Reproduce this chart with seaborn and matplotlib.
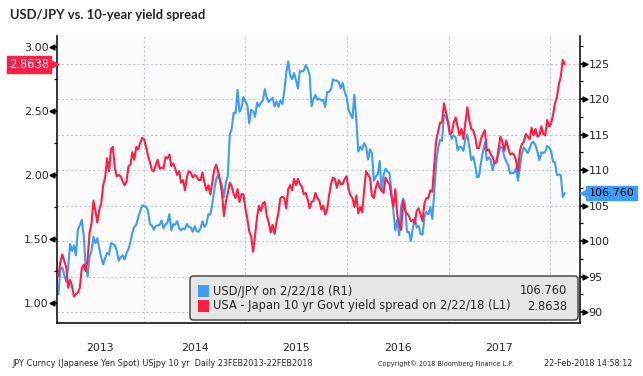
import numpy as np
import pandas as pd
import matplotlib
matplotlib.use("Agg")
import matplotlib.pyplot as plt
import matplotlib.dates as mdates
import matplotlib.transforms as mtransforms
from matplotlib.patches import FancyBboxPatch, Rectangle
from matplotlib.ticker import FormatStrFormatter, NullFormatter
import seaborn as sns

# weekly closes, first week 28 Feb 2013, last 22 Feb 2018
START = "2013-02-28"

usdjpy = [
    # 2013
    92.5,
    96.0, 96.3, 95.2, 94.3,
    96.2, 99.6, 98.6, 99.4,
    98.0, 101.6, 102.2, 103.0, 100.8,
    96.5, 95.0, 97.8, 98.6,
    100.6, 99.7, 100.4, 98.9,
    97.7, 96.7, 97.6, 98.3, 98.1,
    99.7, 99.6, 99.4, 98.6,
    97.2, 97.7, 98.0, 97.4, 98.3,
    98.9, 99.9, 101.2, 102.0,
    102.3, 103.4, 104.2, 105.0,
    # 2014
    105.0, 104.8, 104.3, 102.4, 102.2,
    101.6, 102.1, 102.2, 102.3,
    102.9, 101.8, 102.3, 102.6,
    103.8, 101.5, 102.4, 102.3,
    102.8, 101.8, 101.5, 101.8, 101.7,
    102.4, 102.0, 101.9, 101.3,
    102.1, 101.4, 101.3, 101.8, 102.8,
    102.0, 102.4, 103.8, 103.7,
    105.2, 107.1, 108.7, 109.3,
    108.5, 107.8, 106.2, 108.2, 109.2,
    115.0, 115.8, 118.1, 118.0,
    121.3, 118.2, 118.8, 120.3,
    # 2015
    119.7, 119.2, 116.6, 118.5, 118.3,
    117.5, 119.5, 119.0, 119.5,
    119.8, 121.4, 120.2, 119.6,
    119.9, 120.2, 119.0, 119.7, 118.9,
    119.8, 119.3, 121.1, 123.7,
    125.3, 123.4, 122.8, 123.7,
    122.7, 121.5, 124.0, 123.9, 124.0,
    124.8, 124.3, 123.4, 119.0,
    120.0, 120.6, 119.9, 120.1,
    119.8, 119.9, 118.9, 121.0, 121.0,
    121.4, 122.8, 122.6, 122.6,
    122.4, 121.5, 122.3, 121.0, 120.3,
    # 2016
    118.5, 117.9, 117.3, 120.6,
    117.0, 112.6, 113.3, 112.9,
    113.8, 113.3, 111.5, 112.9, 112.4,
    108.5, 109.1, 109.4, 111.3,
    107.0, 109.3, 110.2, 109.8,
    109.6, 107.0, 104.2, 101.5, 103.0,
    100.8, 104.9, 106.0, 105.3,
    101.3, 101.3, 100.0, 101.7,
    103.3, 101.9, 102.1, 101.0, 100.9,
    103.4, 104.1, 103.8, 104.8,
    103.1, 106.8, 110.9, 113.1,
    114.3, 114.1, 117.8, 117.6, 116.8,
    # 2017
    115.3, 114.4, 114.9, 114.6,
    112.8, 113.3, 113.2, 112.7,
    114.4, 115.0, 113.3, 111.4, 111.9,
    110.7, 109.0, 109.1, 111.1,
    112.5, 113.9, 111.4, 111.8,
    111.4, 110.0, 111.2, 111.3, 112.3,
    113.3, 113.1, 111.9, 111.2,
    110.7, 109.5, 109.6, 109.6, 110.3,
    108.5, 110.5, 112.4, 113.2,
    112.8, 112.4, 113.1, 113.8,
    114.0, 113.5, 112.6, 111.4, 112.5,
    112.4, 112.6, 113.4, 113.2,
    # 2018
    112.7, 111.2, 111.1, 109.3,
    109.4, 109.3, 106.2, 106.76,
]

spread = [
    # 2013
    1.21,
    1.32, 1.38, 1.33, 1.28,
    1.12, 1.18, 1.13, 1.05,
    1.07, 1.08, 1.12, 1.27, 1.30,
    1.25, 1.34, 1.55, 1.62,
    1.80, 1.72, 1.63, 1.73,
    1.78, 1.92, 1.98, 2.13, 2.03,
    2.20, 2.22, 2.05, 1.99,
    2.00, 1.99, 1.95, 1.92, 1.95,
    2.07, 2.08, 2.18, 2.12,
    2.22, 2.20, 2.25, 2.29,
    # 2014
    2.28, 2.22, 2.15, 2.10, 2.04,
    2.03, 2.08, 2.12, 2.05,
    2.06, 2.05, 2.14, 2.13,
    2.16, 2.07, 2.09, 2.05,
    2.00, 2.03, 1.94, 1.96, 1.88,
    1.99, 2.03, 2.02, 1.98,
    2.00, 1.99, 1.96, 1.96, 2.02,
    1.94, 1.88, 1.92, 1.85,
    1.94, 2.04, 2.08, 2.03,
    1.96, 1.86, 1.68, 1.79, 1.86,
    1.94, 1.91, 1.85, 1.82,
    1.89, 1.79, 1.85, 1.85,
    # 2015
    1.74, 1.66, 1.56, 1.52, 1.40,
    1.53, 1.67, 1.76, 1.72,
    1.78, 1.79, 1.68, 1.63,
    1.55, 1.61, 1.54, 1.63, 1.71,
    1.82, 1.83, 1.82, 1.74,
    1.89, 1.92, 1.88, 1.97,
    1.92, 1.97, 1.93, 1.91, 1.85,
    1.86, 1.81, 1.74, 1.79,
    1.80, 1.86, 1.82, 1.80,
    1.73, 1.76, 1.69, 1.73, 1.84,
    1.93, 1.98, 1.97, 1.90,
    1.96, 1.93, 1.93, 1.97, 1.99,
    # 2016
    1.89, 1.84, 1.82, 1.75,
    1.84, 1.70, 1.75, 1.71,
    1.88, 2.03, 2.00, 1.98, 1.84,
    1.82, 1.90, 1.95, 1.90,
    1.88, 1.86, 1.98, 1.95,
    1.93, 1.84, 1.75, 1.89, 1.69,
    1.62, 1.57, 1.80, 1.72,
    1.70, 1.68, 1.64, 1.65,
    1.62, 1.72, 1.74, 1.69, 1.64,
    1.78, 1.82, 1.82, 1.88,
    1.87, 2.07, 2.27, 2.34,
    2.41, 2.41, 2.56, 2.49, 2.42,
    # 2017
    2.32, 2.33, 2.41, 2.45,
    2.38, 2.31, 2.36, 2.28,
    2.41, 2.53, 2.43, 2.36, 2.35,
    2.30, 2.21, 2.21, 2.28,
    2.32, 2.35, 2.19, 2.20,
    2.16, 2.14, 2.09, 2.10, 2.20,
    2.30, 2.26, 2.19, 2.27,
    2.21, 2.16, 2.17, 2.16, 2.11,
    2.03, 2.19, 2.24, 2.26,
    2.32, 2.30, 2.28, 2.37,
    2.31, 2.36, 2.30, 2.31, 2.38,
    2.32, 2.31, 2.43, 2.38,
    # 2018
    2.40, 2.47, 2.56, 2.61,
    2.71, 2.77, 2.90, 2.8638,
]

year_labels = [2013, 2014, 2015, 2016, 2017]
left_ticks = [1.00, 1.50, 2.00, 2.50, 3.00]
right_ticks = [90, 95, 100, 105, 110, 115, 120, 125]

BLUE = "#3d9df5"
RED = "#ff1f45"

dates = pd.date_range(START, periods=len(usdjpy), freq="7D")
df = pd.DataFrame({"date": dates, "usdjpy": usdjpy, "spread": spread})

sns.set_style("white")
plt.rcParams["font.family"] = ["DejaVu Sans"]

fig = plt.figure(figsize=(6.43, 3.76), dpi=100)
ax = fig.add_axes([57 / 643, 1 - 323 / 376, 523 / 643, 287 / 376])
ax.set_facecolor("#fbfbfb")
ax2 = ax.twinx()
ax2.patch.set_visible(False)

sns.lineplot(data=df, x="date", y="usdjpy", ax=ax, color=BLUE, lw=1.5)
sns.lineplot(data=df, x="date", y="spread", ax=ax2, color=RED, lw=1.5)

x0, x1 = pd.Timestamp("2013-02-23"), pd.Timestamp("2018-04-18")
ax.set_xlim(x0, x1)
ax.set_xlabel("")
ax.set_ylabel("")
ax2.set_ylabel("")

# right scale (USD/JPY) on ax, left scale (spread) on ax2
ax.yaxis.tick_right()
ax2.yaxis.tick_left()
ax.set_ylim(88.45, 128.9)
ax2.set_ylim(0.844, 3.086)
ax.set_yticks(right_ticks)
ax.set_yticks(np.arange(92.5, 130, 5), minor=True)
ax2.set_yticks(left_ticks)
ax2.set_yticks(np.arange(1.25, 3.0, 0.5), minor=True)
ax2.yaxis.set_major_formatter(FormatStrFormatter("%.2f"))
ax.yaxis.set_major_formatter(FormatStrFormatter("%d"))

for a in (ax, ax2):
    a.tick_params(axis="y", which="major", direction="out", length=3.5, width=1.2,
                  color="black", labelsize=8, pad=2.5)
    a.tick_params(axis="y", which="minor", direction="out", length=2.5, width=0.9,
                  color="black")
ax.tick_params(axis="y", which="both", left=False, right=True, labelleft=False, labelright=True)
ax2.tick_params(axis="y", which="both", left=True, right=False, labelleft=True, labelright=False)

ax.xaxis.set_major_locator(mdates.YearLocator())
ax.xaxis.set_minor_locator(mdates.MonthLocator(bymonth=[4, 7, 10]))
ax.xaxis.set_major_formatter(NullFormatter())
ax.tick_params(axis="x", which="major", direction="out", length=23, width=0.7, color="#666666")
ax.tick_params(axis="x", which="minor", direction="out", length=3.5, width=0.9, color="black")

# triangle heads on the value ticks
tr_r = mtransforms.blended_transform_factory(ax.transAxes, ax.transData)
tr_l = mtransforms.blended_transform_factory(ax2.transAxes, ax2.transData)
ax.scatter([1.009] * len(right_ticks), right_ticks, marker=">", s=12, color="black",
           transform=tr_r, clip_on=False, zorder=6)
ax2.scatter([-0.009] * len(left_ticks), left_ticks, marker="<", s=12, color="black",
            transform=tr_l, clip_on=False, zorder=6)

ax.grid(which="major", axis="both", ls=(0, (2, 2)), color="#c3c7d0", lw=0.8)
ax.set_axisbelow(True)

for side in ("left", "right", "bottom"):
    ax.spines[side].set_visible(True)
    ax.spines[side].set_color("black")
    ax.spines[side].set_linewidth(1.1)
ax.spines["top"].set_visible(False)
for s in ax2.spines.values():
    s.set_visible(False)

# year labels centred on the visible part of each year
tr_yr = mtransforms.blended_transform_factory(ax.transData, ax.transAxes)
for yr in year_labels:
    a = max(pd.Timestamp(f"{yr}-01-01"), x0)
    b = pd.Timestamp(f"{yr + 1}-01-01")
    ax.text(a + (b - a) / 2, -0.087, str(yr), transform=tr_yr,
            ha="center", va="center", fontsize=7.8)

# last-value tags
last_spread = spread[-1]
last_jpy = usdjpy[-1]
ax2.text(-0.0155, last_spread, f"{last_spread:.4f}", transform=tr_l, ha="right", va="center",
         color="white", fontsize=8.3, clip_on=False, zorder=7,
         bbox=dict(boxstyle="square,pad=0.17", fc=RED, ec=RED))
ax2.scatter([-0.0085], [last_spread], marker=">", s=55, color=RED, transform=tr_l,
            clip_on=False, zorder=7)
ax.text(1.0165, last_jpy, f"{last_jpy:.3f}", transform=tr_r, ha="left", va="center",
        color="black", fontsize=8, clip_on=False, zorder=7,
        bbox=dict(boxstyle="square,pad=0.2", fc=BLUE, ec=BLUE))
ax.scatter([1.0095], [last_jpy], marker="<", s=55, color=BLUE, transform=tr_r,
           clip_on=False, zorder=7)

# legend box
lx0, lx1 = (190 - 57) / 523, (578 - 57) / 523
ly0, ly1 = (323 - 320) / 287, (323 - 276) / 287
ax2.add_patch(FancyBboxPatch((lx0, ly0), lx1 - lx0, ly1 - ly0, transform=ax2.transAxes,
                             boxstyle="round,pad=0,rounding_size=0.006", mutation_aspect=523 / 287,
                             fc="#e6e6e6", ec="#3a3a3a", lw=1.0, zorder=8, clip_on=False))
rows = [
    (BLUE, "USD/JPY on 2/22/18 (R1)", f"{last_jpy:.3f}", (323 - 291) / 287),
    (RED, "USA - Japan 10 yr Govt yield spread on 2/22/18 (L1)", f"{last_spread:.4f}", (323 - 306) / 287),
]
for col, lab, val, yc in rows:
    ax2.add_patch(Rectangle(((198 - 57) / 523, yc - 6 / 287), 11 / 523, 12 / 287,
                            transform=ax2.transAxes, fc=col, ec="none", zorder=9, clip_on=False))
    ax2.text((213 - 57) / 523, yc, lab, transform=ax2.transAxes, ha="left", va="center",
             fontsize=8.3, zorder=9)
    ax2.text((567 - 57) / 523, yc, val, transform=ax2.transAxes, ha="right", va="center",
             fontsize=8.3, zorder=9)

fig.text(10 / 643, 1 - 15 / 376, "USD/JPY vs. 10-year yield spread", family="Lato",
         fontweight="bold", fontsize=9.4, ha="left", va="center")
fig.text(12 / 643, 1 - 364 / 376, "JPY Curncy (Japanese Yen Spot) USjpy 10 yr  Daily 23FEB2013-22FEB2018",
         fontsize=5.9, ha="left", va="center")
fig.text(378 / 643, 1 - 364 / 376, "Copyright\u00a9 2018 Bloomberg Finance L.P.",
         fontsize=4.7, ha="left", va="center")
fig.text(632 / 643, 1 - 364 / 376, "22-Feb-2018 14:58:12", fontsize=5.8, ha="right", va="center")

fig.savefig("out.png", dpi=100)
